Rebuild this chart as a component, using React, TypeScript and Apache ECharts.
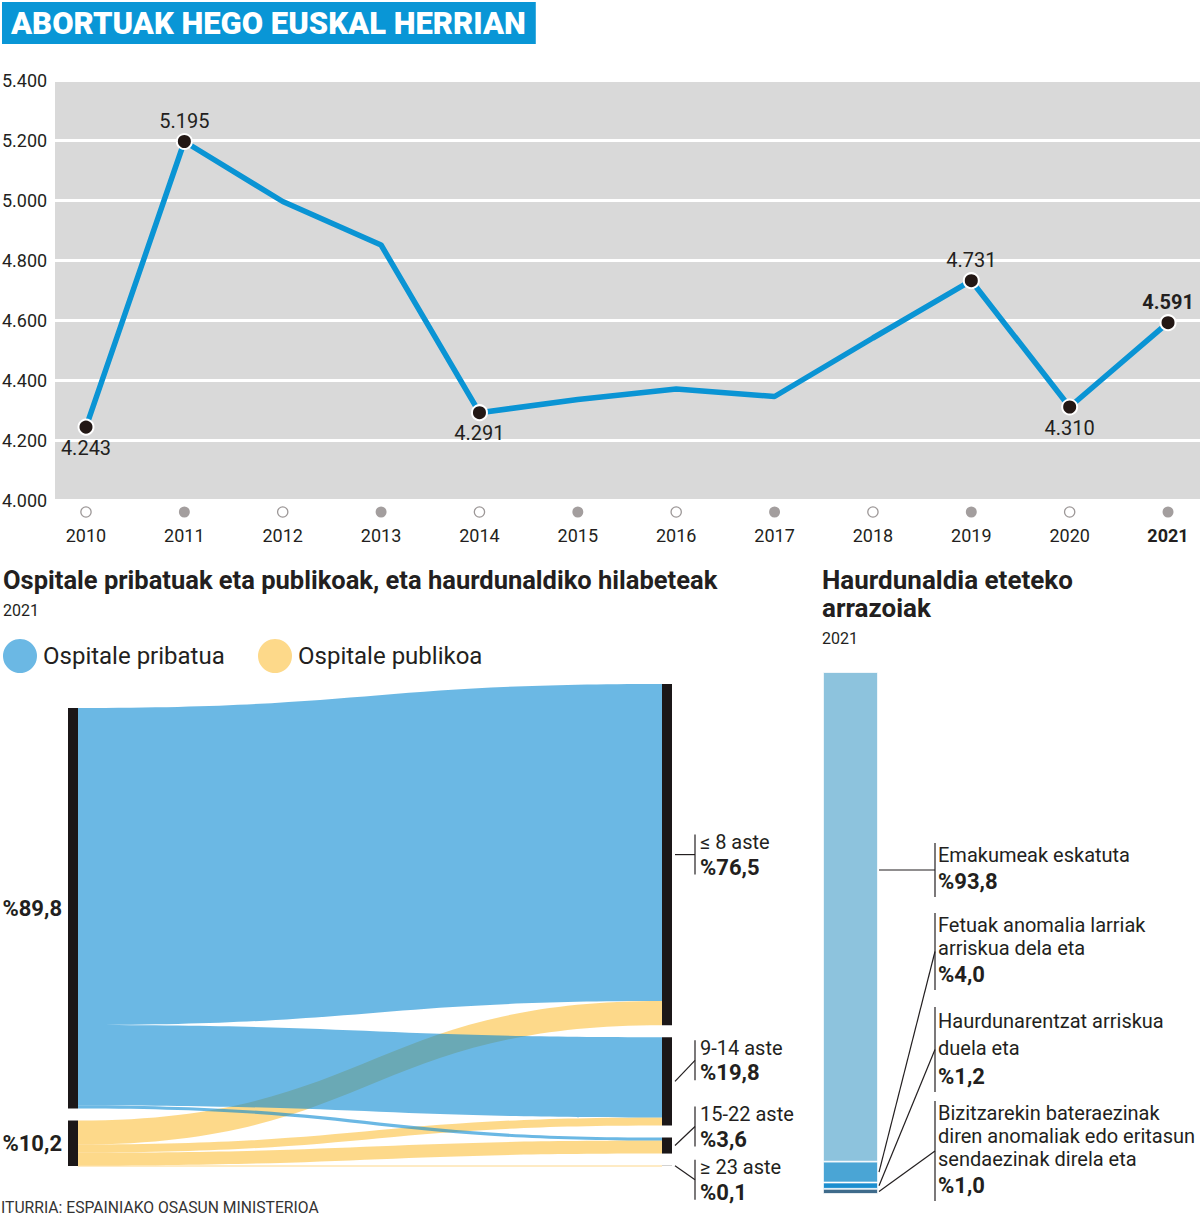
import React, { useEffect, useRef } from 'react';
import * as echarts from 'echarts';

const W = 1200;
const H = 1217;
const FONT = 'Roboto, "Noto Sans", sans-serif';
const INK = '#231f20';

// ---------------- line chart data ----------------
const years = [2010, 2011, 2012, 2013, 2014, 2015, 2016, 2017, 2018, 2019, 2020, 2021];
const abortions = [4243, 5195, 4995, 4850, 4291, 4335, 4370, 4345, 4540, 4731, 4310, 4591];
const labelledAbove = [2011, 2019, 2021];
const labelledBelow = [2010, 2014, 2020];
const yMin = 4000;
const yMax = 5400;
const yStep = 200;

// ---------------- sankey data (2021, %) ----------------
const hospitals = ['Ospitale pribatua', 'Ospitale publikoa'];
const hospitalShares = [89.8, 10.2];
const weekGroups = ['≤ 8 aste', '9-14 aste', '15-22 aste', '≥ 23 aste'];
const weekShares = [76.5, 19.8, 3.6, 0.1];
const privateByWeeks = [71.1, 18.0, 0.7, 0];
const publicByWeeks = [5.4, 1.8, 2.9, 0.1];

// ---------------- reasons data (2021, %) ----------------
const reasons = [
  'Emakumeak eskatuta',
  'Fetuak anomalia larriak\narriskua dela eta',
  'Haurdunarentzat arriskua\nduela eta',
  'Bizitzarekin bateraezinak\ndiren anomaliak edo eritasun\nsendaezinak direla eta',
];
const reasonShares = [93.8, 4.0, 1.2, 1.0];

// ---------------- styles ----------------
const LINE_BLUE = '#0a94d4';
const PRIV = '#0889d2';
const PUB = '#fcc03c';
const LINK_OPACITY = 0.6;
const PRIV_SOLID = '#6bb8e4';
const PUB_SOLID = '#fdd98a';
const NODE = '#1b1718';
const reasonColors = ['#8dc3dd', '#4aa5d5', '#1b8ecf', '#3f6b8b'];

const pct = (v: number) => '%' + v.toFixed(1).replace('.', ',');
const thousands = (v: number) => String(v).replace(/\B(?=(\d{3})+(?!\d))/g, '.');
const sum = (a: number[]) => a.reduce((s, v) => s + v, 0);

// sankey layout box
const SK = { left: 68, top: 684, right: 528, bottom: 51, nodeWidth: 10, nodeGap: 12 };
const skHeight = H - SK.top - SK.bottom;
const ky = (skHeight - (weekGroups.length - 1) * SK.nodeGap) / sum(weekShares);
const padDy = (weekGroups.length - hospitals.length - 1) * SK.nodeGap;
const padValue = padDy / ky;
const weekLabelOffsets = [0, -21, -19, 14];
const WEEK_RULE_X = 695;

// reasons bar box
const RB = { left: 823, top: 672, width: 55, height: 522 };
const reasonBlockTops = [843, 913, 1007, 1101];
const reasonLineHeights = [23, 23, 27, 23];
const REASON_RULE_X = 935;
const REASON_TEXT_X = 938;
const R_PCT_H = 31;

function buildOption(): any {
  const sankeyNodes: any[] = [
    {
      name: 'pad',
      value: padValue,
      itemStyle: { color: 'rgba(0,0,0,0)', borderWidth: 0 },
      label: { show: false },
    },
    ...hospitals.map((n, i) => ({
      name: n,
      itemStyle: { color: NODE },
      label: { position: 'left', distance: 6, formatter: `{b|${pct(hospitalShares[i])}}` },
    })),
    ...weekGroups.map((n, i) => ({
      name: n,
      itemStyle: { color: i === weekGroups.length - 1 ? '#9a9a9a' : NODE },
      label: {
        position: 'right',
        distance: 28,
        offset: [0, weekLabelOffsets[i]],
        formatter: `{a|${n}}\n{b|${pct(weekShares[i])}}`,
      },
    })),
  ];
  const links: any[] = [];
  weekGroups.forEach((w, i) => {
    if (publicByWeeks[i] > 0)
      links.push({ source: hospitals[1], target: w, value: publicByWeeks[i], lineStyle: { color: PUB, opacity: LINK_OPACITY } });
  });
  weekGroups.forEach((w, i) => {
    if (privateByWeeks[i] > 0)
      links.push({ source: hospitals[0], target: w, value: privateByWeeks[i], lineStyle: { color: PRIV, opacity: LINK_OPACITY } });
  });

  const lineData = years.map((yr, i) => {
    const above = labelledAbove.includes(yr);
    const below = labelledBelow.includes(yr);
    const shown = above || below;
    return {
      value: [yr, abortions[i]],
      symbol: shown ? 'circle' : 'none',
      label: {
        show: shown,
        position: above ? 'top' : 'bottom',
        fontWeight: yr === years[years.length - 1] ? 'bold' : 'normal',
      },
    };
  });

  const barSeries = reasons
    .map((r, i) => ({
      type: 'bar',
      name: r,
      xAxisIndex: 1,
      yAxisIndex: 1,
      stack: 'reasons',
      barWidth: '100%',
      silent: true,
      data: [reasonShares[i]],
      itemStyle: { color: reasonColors[i], borderColor: '#fff', borderWidth: 0.8 },
    }))
    .reverse();

  return {
    animation: false,
    backgroundColor: '#fff',
    textStyle: { fontFamily: FONT },
    title: [
      {
        text: 'ABORTUAK HEGO EUSKAL HERRIAN',
        left: 2,
        top: 2,
        padding: [6, 10, 5, 9],
        backgroundColor: '#0996d6',
        textStyle: { color: '#fff', fontSize: 31, fontWeight: 900, fontFamily: FONT, lineHeight: 31 },
      },
      {
        text: 'Ospitale pribatuak eta publikoak, eta haurdunaldiko hilabeteak',
        subtext: '2021',
        left: 3,
        top: 566,
        padding: 0,
        itemGap: 6,
        textStyle: { color: INK, fontSize: 25.5, fontWeight: 'bold', fontFamily: FONT, lineHeight: 28 },
        subtextStyle: { color: INK, fontSize: 16, fontFamily: FONT, lineHeight: 20 },
      },
      {
        text: 'Haurdunaldia eteteko\narrazoiak',
        subtext: '2021',
        left: 822,
        top: 566,
        padding: 0,
        itemGap: 6,
        textStyle: { color: INK, fontSize: 26, fontWeight: 'bold', fontFamily: FONT, lineHeight: 28 },
        subtextStyle: { color: INK, fontSize: 16, fontFamily: FONT, lineHeight: 20 },
      },
      {
        text: 'ITURRIA: ESPAINIAKO OSASUN MINISTERIOA',
        left: 1,
        top: 1198,
        padding: 0,
        textStyle: { color: '#333', fontSize: 15.7, fontWeight: 'normal', fontFamily: FONT, lineHeight: 18 },
      },
    ],
    grid: [
      {
        left: 55,
        right: 0,
        top: 80,
        bottom: H - 500,
        show: true,
        backgroundColor: '#d9d9d9',
        borderWidth: 0,
        containLabel: false,
        outerBoundsMode: 'none',
      },
      {
        left: RB.left,
        top: RB.top,
        width: RB.width,
        height: RB.height,
        containLabel: false,
        outerBoundsMode: 'none',
      },
    ],
    xAxis: [
      {
        gridIndex: 0,
        type: 'value',
        min: years[0] - 0.315,
        max: years[years.length - 1] + 0.325,
        axisLine: { show: false },
        axisTick: { show: false },
        splitLine: { show: false },
        axisLabel: {
          customValues: years,
          margin: 6,
          formatter: (v: number) => {
            const i = years.indexOf(v);
            const dot = i % 2 === 0 ? 'ho' : 'fi';
            const yr = v === years[years.length - 1] ? 'yb' : 'y';
            return `{${dot}| }\n{${yr}|${v}}`;
          },
          rich: {
            ho: { width: 9, height: 9, borderRadius: 6, borderColor: '#9c9797', borderWidth: 1.3, backgroundColor: '#fff', lineHeight: 12 },
            fi: { width: 11, height: 11, borderRadius: 6, backgroundColor: '#a39e9e', lineHeight: 12 },
            y: { fontSize: 18, color: INK, lineHeight: 34, fontFamily: FONT },
            yb: { fontSize: 18, color: INK, fontWeight: 'bold', lineHeight: 34, fontFamily: FONT },
          },
        },
      },
      { gridIndex: 1, type: 'category', data: ['2021'], show: false },
    ],
    yAxis: [
      {
        gridIndex: 0,
        type: 'value',
        min: yMin,
        max: yMax,
        interval: yStep,
        axisLine: { show: false },
        axisTick: { show: false },
        splitLine: { lineStyle: { color: '#fff', width: 3 } },
        axisLabel: {
          align: 'left',
          margin: 53,
          fontSize: 18,
          color: INK,
          fontFamily: FONT,
          formatter: (v: number) => thousands(v),
        },
      },
      { gridIndex: 1, type: 'value', min: 0, max: 100, show: false },
    ],
    series: [
      {
        type: 'line',
        xAxisIndex: 0,
        yAxisIndex: 0,
        data: lineData,
        symbolSize: 15,
        showAllSymbol: true,
        silent: true,
        lineStyle: { color: LINE_BLUE, width: 5.5 },
        itemStyle: { color: '#231815', borderColor: '#fff', borderWidth: 2 },
        label: {
          formatter: (p: any) => thousands(p.value[1]),
          fontSize: 20,
          color: INK,
          fontFamily: FONT,
          distance: 2,
        },
        z: 3,
      },
      {
        type: 'sankey',
        left: SK.left,
        top: SK.top,
        right: SK.right,
        bottom: SK.bottom,
        nodeWidth: SK.nodeWidth,
        nodeGap: SK.nodeGap,
        layoutIterations: 0,
        nodeAlign: 'left',
        draggable: false,
        silent: true,
        emphasis: { disabled: true },
        lineStyle: { curveness: 0.5 },
        label: {
          color: INK,
          fontFamily: FONT,
          rich: {
            a: { fontSize: 20, color: INK, lineHeight: 25, fontFamily: FONT },
            b: { fontSize: 22, fontWeight: 'bold', color: INK, lineHeight: 25, fontFamily: FONT },
          },
        },
        data: sankeyNodes,
        links,
      },
      ...barSeries,
    ],
  };
}

function buildGraphic(chart: any): any[] {
  const g: any[] = [];
  const lineStyle = { stroke: INK, lineWidth: 1.2 };

  // legend
  const legendItems = [
    { name: hospitals[0], color: PRIV_SOLID, cx: 20 },
    { name: hospitals[1], color: PUB_SOLID, cx: 275 },
  ];
  legendItems.forEach((it) => {
    g.push({ type: 'circle', shape: { cx: it.cx, cy: 656, r: 17 }, style: { fill: it.color }, silent: true });
    g.push({
      type: 'text',
      x: it.cx + 23,
      y: 656,
      silent: true,
      style: { text: it.name, fill: INK, fontSize: 24, fontFamily: FONT, verticalAlign: 'middle', align: 'left' },
    });
  });

  // sankey right-node leader lines
  let yy = SK.top;
  weekShares.forEach((v, i) => {
    const dy = v * ky;
    const center = yy + dy / 2;
    yy += dy + SK.nodeGap;
    const labelCenter = center + weekLabelOffsets[i];
    const nodeRight = W - SK.right;
    g.push({
      type: 'polyline',
      silent: true,
      shape: { points: [[nodeRight + 3, center], [WEEK_RULE_X, labelCenter]] },
      style: { ...lineStyle, fill: null },
    });
    g.push({
      type: 'line',
      silent: true,
      shape: { x1: WEEK_RULE_X, y1: labelCenter - 20, x2: WEEK_RULE_X, y2: labelCenter + 20 },
      style: lineStyle,
    });
  });

  // reasons annotations
  const barRight = RB.left + RB.width;
  reasons.forEach((r, i) => {
    const lines = r.split('\n');
    const top = reasonBlockTops[i];
    const lh = reasonLineHeights[i];
    const height = lines.length * lh + R_PCT_H;
    const mid = top + height / 2;
    const lower = sum(reasonShares.slice(i + 1));
    const upper = lower + reasonShares[i];
    const pTop = chart.convertToPixel({ gridIndex: 1 }, [0, upper])[1];
    const pBot = chart.convertToPixel({ gridIndex: 1 }, [0, lower])[1];
    const startY = mid >= pTop && mid <= pBot ? mid : (pTop + pBot) / 2;
    g.push({
      type: 'line',
      silent: true,
      shape: { x1: barRight + 1, y1: startY, x2: REASON_RULE_X, y2: mid },
      style: lineStyle,
    });
    g.push({
      type: 'line',
      silent: true,
      shape: { x1: REASON_RULE_X, y1: top, x2: REASON_RULE_X, y2: top + height },
      style: lineStyle,
    });
    const text = lines.map((l) => `{t|${l}}`).join('\n') + `\n{p|${pct(reasonShares[i])}}`;
    g.push({
      type: 'text',
      x: REASON_TEXT_X,
      y: top,
      silent: true,
      style: {
        text,
        fill: INK,
        fontFamily: FONT,
        verticalAlign: 'top',
        align: 'left',
        rich: {
          t: { fontSize: 20, lineHeight: lh, fill: INK, fontFamily: FONT },
          p: { fontSize: 22, fontWeight: 'bold', lineHeight: R_PCT_H, fill: INK, fontFamily: FONT },
        },
      },
    });
  });
  return g;
}

export default function App() {
  const ref = useRef<HTMLDivElement>(null);
  useEffect(() => {
    if (!ref.current) return;
    const chart = echarts.init(ref.current, undefined, { renderer: 'svg', width: W, height: H });
    chart.setOption(buildOption());
    chart.setOption({ graphic: buildGraphic(chart) });
    return () => chart.dispose();
  }, []);
  return (
    <div
      ref={ref}
      style={{ position: 'absolute', left: 0, top: 0, width: W, height: H, background: '#fff' }}
    />
  );
}
